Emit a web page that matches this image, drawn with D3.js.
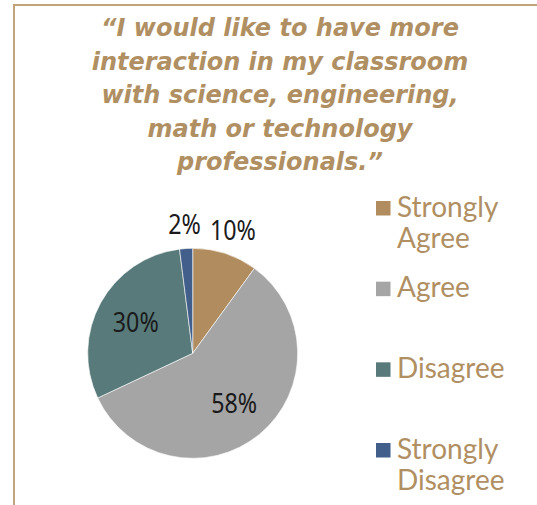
<!DOCTYPE html>
<html>
<head>
<meta charset="utf-8">
<script src="https://cdn.jsdelivr.net/npm/d3@7"></script>
<style>
  body { margin: 0; background: #fff; }
</style>
</head>
<body>
<div id="chart"></div>
<script>
// chart data
const categories = ["Strongly Agree", "Agree", "Disagree", "Strongly Disagree"];
const legendLines = [["Strongly", "Agree"], ["Agree"], ["Disagree"], ["Strongly", "Disagree"]];
const values = [10, 58, 30, 2];
const sliceColors = ["#b08c5e", "#a5a5a5", "#587a7a", "#415f8a"];
const titleLines = [
    "\u201cI would like to have more",
    "interaction in my classroom",
    "with science, engineering,",
    "math or technology",
    "professionals.\u201d"
];

const width = 537, height = 505;
const tan = "#b08f62";

const svg = d3.select("#chart")
    .append("svg")
    .attr("width", width)
    .attr("height", height);

// frame (only the top and left edges are in view)
svg.append("path")
    .attr("d", `M14,${height} L14,5 L${width},5`)
    .attr("fill", "none")
    .attr("stroke", "#c2a47c")
    .attr("stroke-width", 2);

// title
svg.append("text")
    .attr("x", 280)
    .attr("y", 36)
    .attr("text-anchor", "middle")
    .attr("font-family", "'DejaVu Sans', sans-serif")
    .attr("font-style", "italic")
    .attr("font-weight", "bold")
    .attr("font-size", 24)
    .attr("fill", tan)
    .selectAll("tspan")
    .data(titleLines)
    .enter()
    .append("tspan")
    .attr("x", 280)
    .attr("dy", (d, i) => i === 0 ? 0 : 33.5)
    .text(d => d);

// pie
const cx = 192.7, cy = 353.3, radius = 105;
const pieData = categories.map((c, i) => ({ name: c, value: values[i], color: sliceColors[i] }));

const pie = d3.pie().sort(null).value(d => d.value);
const arc = d3.arc().innerRadius(0).outerRadius(radius);
const innerLabelArc = d3.arc().innerRadius(65).outerRadius(65);
const outerLabelArc = d3.arc().innerRadius(130).outerRadius(130);

const pieGroup = svg.append("g")
    .attr("transform", `translate(${cx}, ${cy})`);

const arcs = pie(pieData);

pieGroup.selectAll("path")
    .data(arcs)
    .enter()
    .append("path")
    .attr("d", arc)
    .attr("fill", d => d.data.color)
    .attr("stroke", "#fff")
    .attr("stroke-width", 0.6);

// percentage labels: small slices get theirs outside the pie
pieGroup.selectAll("text.pct")
    .data(arcs)
    .enter()
    .append("text")
    .attr("class", "pct")
    .attr("transform", d => {
        const c = (d.data.value < 15 ? outerLabelArc : innerLabelArc).centroid(d);
        return `translate(${c[0]}, ${c[1]}) scale(0.83, 1)`;
    })
    .attr("dy", "0.36em")
    .attr("text-anchor", "middle")
    .attr("font-family", "'Noto Sans', sans-serif")
    .attr("font-size", 28)
    .attr("fill", "#1a1a1a")
    .text(d => d.data.value + "%");

// legend
const legendY = d3.scalePoint()
    .domain(categories)
    .range([201, 443]);

const items = svg.append("g")
    .selectAll("g")
    .data(pieData)
    .enter()
    .append("g")
    .attr("transform", d => `translate(376, ${legendY(d.name)})`);

items.append("rect")
    .attr("width", 14.5)
    .attr("height", 14.5)
    .attr("fill", d => d.color);

items.append("text")
    .attr("font-family", "Lato, sans-serif")
    .attr("font-size", 28)
    .attr("fill", tan)
    .selectAll("tspan")
    .data((d, i) => legendLines[i])
    .enter()
    .append("tspan")
    .attr("x", 21)
    .attr("y", (d, i) => 15.5 + i * 31.5)
    .text(d => d);
</script>
</body>
</html>
